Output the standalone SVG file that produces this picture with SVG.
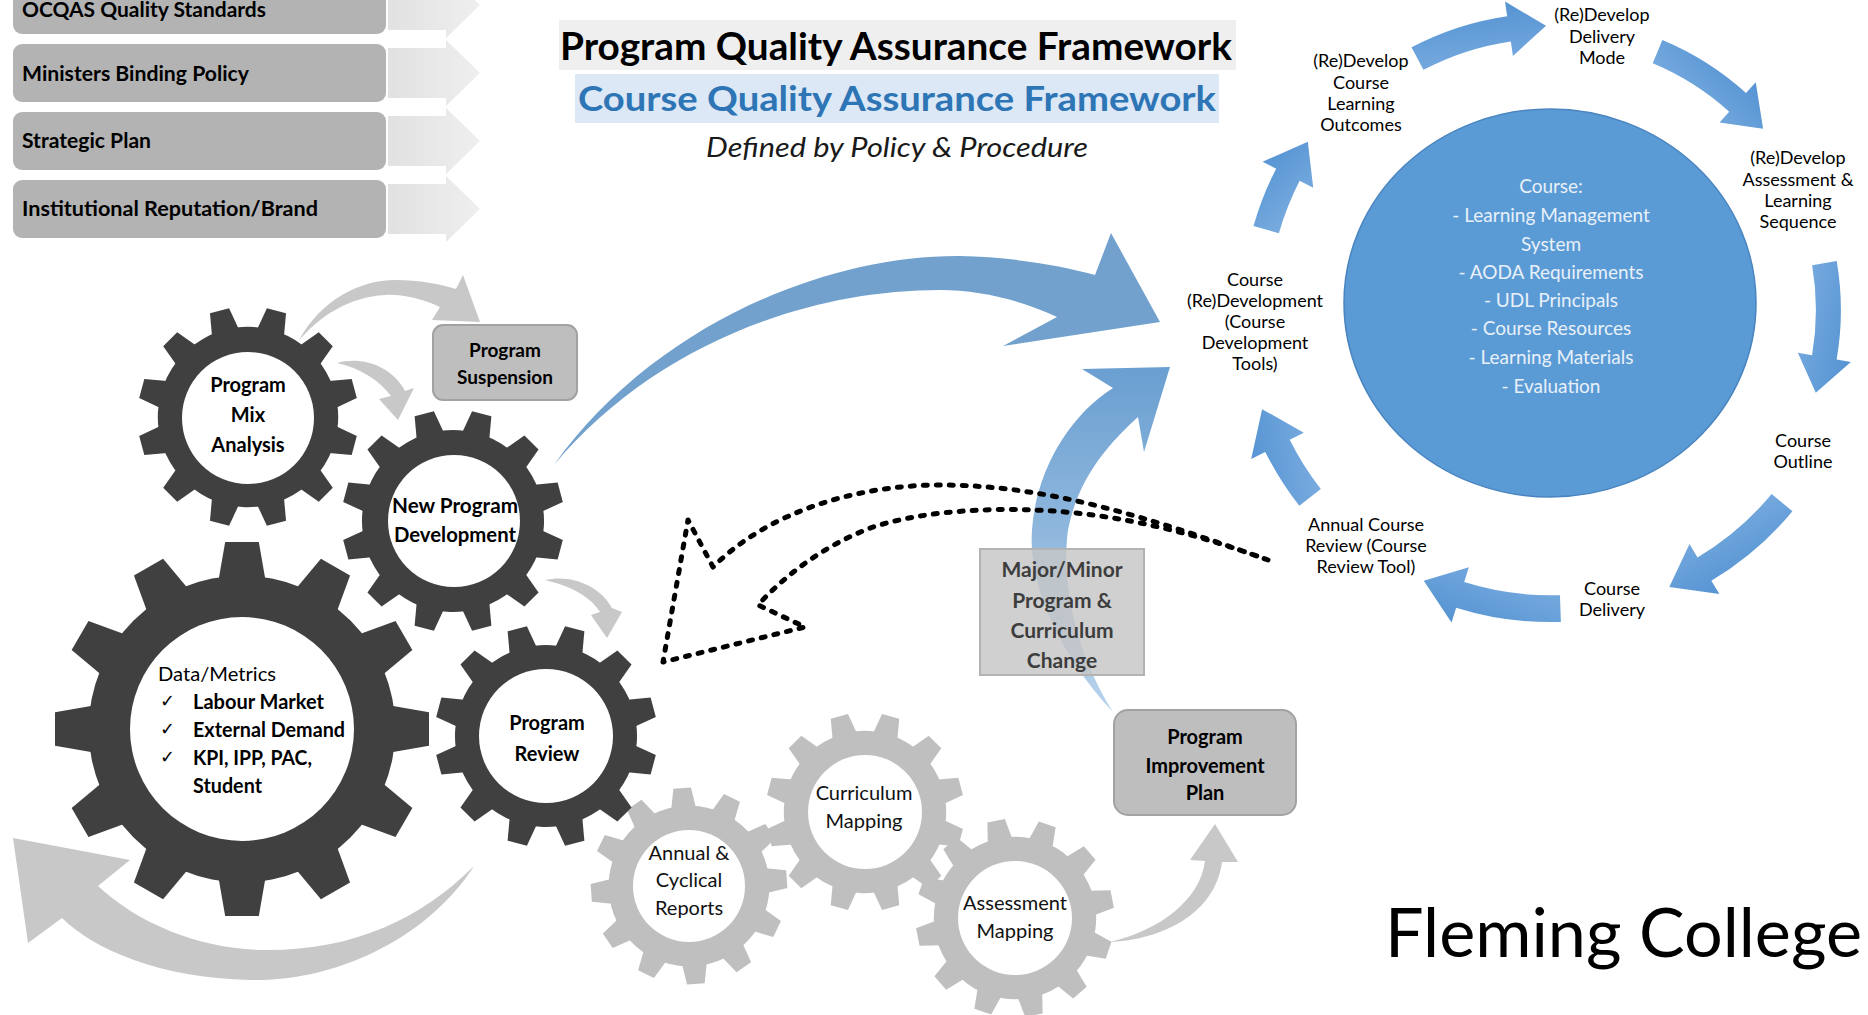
<svg xmlns="http://www.w3.org/2000/svg" width="1868" height="1015" viewBox="0 0 1868 1015">
<defs>
<style>
text{font-family:Lato,'Liberation Sans',sans-serif;}
.bx{fill:#b3b3b3;}
.bxt{font-weight:bold;font-size:21px;fill:#000;}
.gt{font-weight:bold;font-size:20px;fill:#000;text-anchor:middle;}
.gg{font-size:20px;fill:#111;text-anchor:middle;}
.cl{font-size:18px;fill:#000;text-anchor:middle;}
.ct{font-size:19px;fill:#e8f0f9;text-anchor:middle;}
.chev{fill:url(#chevg);}
.dark{fill:#404040;}
.light{fill:#bfbfbf;}
.hole{fill:#fff;}
.garr{fill:#c8c8c8;}
.barr{fill:url(#cyc);}
.dash{fill:none;stroke:#000;stroke-width:5;stroke-linecap:round;stroke-linejoin:round;stroke-dasharray:4 9;}
.pbox{fill:#bebebe;stroke:#a2a2a2;stroke-width:2;}
</style>
<linearGradient id="chevg" x1="0" y1="0" x2="1" y2="0">
<stop offset="0" stop-color="#e1e1e1"/><stop offset="1" stop-color="#efefef"/>
</linearGradient>
<linearGradient id="cyc" x1="0" y1="0" x2="1" y2="1">
<stop offset="0" stop-color="#82b2e3"/><stop offset="1" stop-color="#4f8fd0"/>
</linearGradient>
<linearGradient id="arrB" x1="0" y1="0" x2="0" y2="1">
<stop offset="0" stop-color="#6a9fd1"/><stop offset="1" stop-color="#b8d2eb"/>
</linearGradient>
<polygon id="tooth" points="-13,-77 13,-77 9,-100 -9,-100"/>
<g id="gear">
<circle r="82"/>
<use href="#tooth"/>
<use href="#tooth" transform="rotate(30)"/>
<use href="#tooth" transform="rotate(60)"/>
<use href="#tooth" transform="rotate(90)"/>
<use href="#tooth" transform="rotate(120)"/>
<use href="#tooth" transform="rotate(150)"/>
<use href="#tooth" transform="rotate(180)"/>
<use href="#tooth" transform="rotate(210)"/>
<use href="#tooth" transform="rotate(240)"/>
<use href="#tooth" transform="rotate(270)"/>
<use href="#tooth" transform="rotate(300)"/>
<use href="#tooth" transform="rotate(330)"/>
</g>
<path id="cycL" d="M303,0 A303,303 0 0 1 285.62,101.14 L299.76,106.15 L258.39,131.66 L246.97,87.46 L261.11,92.47 A277,277 0 0 0 277,0 Z"/>
<path id="cycS" d="M303,0 A303,303 0 0 1 296.92,60.41 L311.61,63.40 L274.20,94.42 L256.74,52.23 L271.44,55.23 A277,277 0 0 0 277,0 Z"/>
</defs>
<rect width="1868" height="1015" fill="#fff"/>

<g id="connectors">
<polygon class="chev" points="388,-20 446,-20 446,-28 480,5 446,38 446,30 388,30"/>
<polygon class="chev" points="388,48 446,48 446,40 480,73 446,106 446,98 388,98"/>
<polygon class="chev" points="388,116 446,116 446,108 480,141 446,174 446,166 388,166"/>
<polygon class="chev" points="388,184 446,184 446,176 480,209 446,242 446,234 388,234"/>
<path id="arrow-npd-course" fill="#72a1cd" d="M554,465 C650,330 820,255 960,256 C1010,257 1060,265 1095,275 L1111,233 L1160,322 L1003,346 L1057,317 C1020,300 980,290 940,290 C800,290 650,350 554,465 Z"/>
<path id="arrow-pip-course" fill="url(#arrB)" d="M1113,712 C1055,650 1028,580 1032,530 C1036,470 1070,415 1113,388 L1082,369 L1170,367 L1144,452 L1138,417 C1105,447 1078,480 1068,530 C1060,590 1080,660 1113,712 Z"/>
<g id="cycle-arrows">
<use href="#cycS" class="barr" transform="translate(1550,310) rotate(195.8) scale(1.017)"/>
<use href="#cycL" class="barr" transform="translate(1550,310) rotate(242.2) scale(0.98)"/>
<use href="#cycL" class="barr" transform="translate(1550,310) rotate(292.6) scale(0.965)"/>
<use href="#cycL" class="barr" transform="translate(1550,310) rotate(350.3) scale(0.96)"/>
<use href="#cycL" class="barr" transform="translate(1550,310) rotate(39.7) scale(1.04)"/>
<use href="#cycL" class="barr" transform="translate(1550,310) rotate(88) scale(1.03)"/>
<use href="#cycS" class="barr" transform="translate(1550,310) rotate(142) scale(1.05)"/>
</g>
</g>

<g id="title-program">
<rect x="559" y="20" width="677" height="50" fill="#efefef"/>
<text x="560" y="60" font-size="38" font-weight="bold" fill="#000" textLength="672" lengthAdjust="spacingAndGlyphs">Program Quality Assurance Framework</text>
</g>
<g id="title-course">
<rect x="575" y="74" width="644" height="49" fill="#dce8f5"/>
<text x="578" y="111" font-size="35" font-weight="bold" fill="#2e75b6" textLength="638" lengthAdjust="spacingAndGlyphs">Course Quality Assurance Framework</text>
</g>
<text id="subtitle" x="706" y="157" font-size="27" font-style="italic" fill="#1a1a1a" textLength="382" lengthAdjust="spacingAndGlyphs">Defined by Policy &amp; Procedure</text>

<g id="box-ocqas"><rect class="bx" x="13" y="-24" width="373" height="58" rx="9"/><text class="bxt" x="22" y="17" textLength="244" lengthAdjust="spacingAndGlyphs" style="font-size:20px">OCQAS Quality Standards</text></g>
<g id="box-ministers"><rect class="bx" x="13" y="44" width="373" height="58" rx="9"/><text class="bxt" x="22" y="81" textLength="227" lengthAdjust="spacingAndGlyphs">Ministers Binding Policy</text></g>
<g id="box-strategic"><rect class="bx" x="13" y="112" width="373" height="58" rx="9"/><text class="bxt" x="22" y="148" textLength="129" lengthAdjust="spacingAndGlyphs">Strategic Plan</text></g>
<g id="box-reputation"><rect class="bx" x="13" y="180" width="373" height="58" rx="9"/><text class="bxt" x="22" y="216" textLength="296" lengthAdjust="spacingAndGlyphs">Institutional Reputation/Brand</text></g>

<g id="course-circle">
<ellipse cx="1550" cy="303" rx="206" ry="194" fill="#5b9bd5" stroke="#4a85c0" stroke-width="1.5"/>
<text class="ct" x="1551" y="193">Course:</text>
<text class="ct" x="1551" y="222">- Learning Management</text>
<text class="ct" x="1551" y="251">System</text>
<text class="ct" x="1551" y="279">- AODA Requirements</text>
<text class="ct" x="1551" y="307">- UDL Principals</text>
<text class="ct" x="1551" y="335">- Course Resources</text>
<text class="ct" x="1551" y="364">- Learning Materials</text>
<text class="ct" x="1551" y="393">- Evaluation</text>
</g>
<g id="step-delivery-mode"><text class="cl" x="1602" y="21">(Re)Develop</text><text class="cl" x="1602" y="43">Delivery</text><text class="cl" x="1602" y="64">Mode</text></g>
<g id="step-clo"><text class="cl" x="1361" y="67">(Re)Develop</text><text class="cl" x="1361" y="89">Course</text><text class="cl" x="1361" y="110">Learning</text><text class="cl" x="1361" y="131">Outcomes</text></g>
<g id="step-assessment"><text class="cl" x="1798" y="164">(Re)Develop</text><text class="cl" x="1798" y="186">Assessment &amp;</text><text class="cl" x="1798" y="207">Learning</text><text class="cl" x="1798" y="228">Sequence</text></g>
<g id="step-outline"><text class="cl" x="1803" y="447">Course</text><text class="cl" x="1803" y="468">Outline</text></g>
<g id="step-delivery"><text class="cl" x="1612" y="595">Course</text><text class="cl" x="1612" y="616">Delivery</text></g>
<g id="step-annual-review"><text class="cl" x="1366" y="531">Annual Course</text><text class="cl" x="1366" y="552">Review (Course</text><text class="cl" x="1366" y="573">Review Tool)</text></g>
<g id="step-course-dev"><text class="cl" x="1255" y="286">Course</text><text class="cl" x="1255" y="307">(Re)Development</text><text class="cl" x="1255" y="328">(Course</text><text class="cl" x="1255" y="349">Development</text><text class="cl" x="1255" y="370">Tools)</text></g>

<g id="gear-annual">
<use href="#gear" class="light" transform="translate(689,886) rotate(-4) scale(0.98)"/>
<circle class="hole" cx="689" cy="886" r="56"/>
<text class="gg" x="689" y="860">Annual &amp;</text><text class="gg" x="689" y="887">Cyclical</text><text class="gg" x="689" y="915">Reports</text>
</g>
<g id="gear-curriculum">
<use href="#gear" class="light" transform="translate(865,812) rotate(15) scale(0.99)"/>
<circle class="hole" cx="865" cy="812" r="57"/>
<text class="gg" x="864" y="800">Curriculum</text><text class="gg" x="864" y="828">Mapping</text>
</g>
<g id="gear-assessment">
<use href="#gear" class="light" transform="translate(1015,918) rotate(19) scale(0.99)"/>
<circle class="hole" cx="1015" cy="918" r="57"/>
<text class="gg" x="1015" y="910">Assessment</text><text class="gg" x="1015" y="938">Mapping</text>
</g>

<g id="gear-data">
<use href="#gear" class="dark" transform="translate(242,729) scale(1.87)"/>
<circle class="hole" cx="242" cy="729" r="112"/>
<text x="158" y="681" font-size="20" fill="#000" textLength="118" lengthAdjust="spacingAndGlyphs">Data/Metrics</text>
<text x="160" y="707" font-size="18" fill="#000" font-family="'DejaVu Sans',sans-serif">✓</text>
<text class="bxt" x="193" y="709" textLength="131" lengthAdjust="spacingAndGlyphs" style="font-size:20px">Labour Market</text>
<text x="160" y="735" font-size="18" fill="#000" font-family="'DejaVu Sans',sans-serif">✓</text>
<text class="bxt" x="193" y="737" textLength="152" lengthAdjust="spacingAndGlyphs" style="font-size:20px">External Demand</text>
<text x="160" y="763" font-size="18" fill="#000" font-family="'DejaVu Sans',sans-serif">✓</text>
<text class="bxt" x="193" y="765" textLength="119" lengthAdjust="spacingAndGlyphs" style="font-size:20px">KPI, IPP, PAC,</text>
<text class="bxt" x="193" y="793" textLength="69" lengthAdjust="spacingAndGlyphs" style="font-size:20px">Student</text>
</g>
<g id="gear-program-mix">
<use href="#gear" class="dark" transform="translate(248,417) rotate(15) scale(1.1)"/>
<circle class="hole" cx="248" cy="418" r="66"/>
<text class="gt" x="248" y="392">Program</text><text class="gt" x="248" y="422">Mix</text><text class="gt" x="248" y="452">Analysis</text>
</g>
<g id="gear-new-program">
<use href="#gear" class="dark" transform="translate(453,521) rotate(15) scale(1.11)"/>
<circle class="hole" cx="454" cy="521" r="66"/>
<text class="gt" x="455" y="513" textLength="126" lengthAdjust="spacingAndGlyphs">New Program</text><text class="gt" x="455" y="542" textLength="122" lengthAdjust="spacingAndGlyphs">Development</text>
</g>
<g id="gear-program-review">
<use href="#gear" class="dark" transform="translate(546,736) rotate(15) scale(1.11)"/>
<circle class="hole" cx="546" cy="736" r="67"/>
<text class="gt" x="547" y="730">Program</text><text class="gt" x="547" y="761">Review</text>
</g>

<g id="gray-arrows">
<path class="garr" d="M474,866 C430,935 340,982 250,980 C160,978 95,950 62,918 L28,943 L13,838 L130,860 L98,886 C140,925 200,948 260,950 C350,952 420,920 474,866 Z"/>
<path class="garr" d="M298,342 C320,300 360,280 395,280 C420,280 440,284 456,289 L463,275 L480,322 L432,320 L440,307 C420,298 400,294 385,295 C350,297 320,315 298,342 Z"/>
<path class="garr" d="M337,363 C362,356 392,366 405,391 L414,388 L398,420 L379,399 L391,396 C379,380 360,368 337,363 Z"/>
<path class="garr" d="M545,580 C570,574 600,585 612,608 L622,612 L607,638 L591,615 L600,612 C590,596 570,586 545,580 Z"/>
<path class="garr" d="M1110,942 C1160,940 1215,915 1222,862 L1238,862 L1215,824 L1190,860 L1205,861 C1200,900 1160,930 1110,942 Z"/>
</g>

<path id="arrow-review-feedback" class="dash" d="M1268,560 C1150,518 1050,485 940,485 C860,485 770,510 713,567 L688,520 L663,662 L805,627 L758,605 C790,570 830,543 873,527 C920,512 980,508 1033,510 C1120,513 1200,535 1268,560 Z"/>

<g id="box-suspension">
<rect class="pbox" x="433" y="325" width="144" height="75" rx="10"/>
<text class="gt" x="505" y="357" style="font-size:19px">Program</text><text class="gt" x="505" y="384" style="font-size:19px">Suspension</text>
</g>
<g id="box-major-minor">
<rect x="980" y="549" width="164" height="126" fill="#c6c6c6" fill-opacity="0.82" stroke="#b3b3b3" stroke-width="2"/>
<text class="gt" x="1062" y="577" style="font-size:21px;fill:#3d3d3d">Major/Minor</text>
<text class="gt" x="1062" y="608" style="font-size:21px;fill:#3d3d3d">Program &amp;</text>
<text class="gt" x="1062" y="638" style="font-size:21px;fill:#3d3d3d">Curriculum</text>
<text class="gt" x="1062" y="668" style="font-size:21px;fill:#3d3d3d">Change</text>
</g>
<g id="box-improvement">
<rect class="pbox" x="1114" y="710" width="182" height="105" rx="14"/>
<text class="gt" x="1205" y="744">Program</text><text class="gt" x="1205" y="773">Improvement</text><text class="gt" x="1205" y="800">Plan</text>
</g>

<text id="fleming" x="1385" y="957" font-size="68" fill="#000" textLength="477" lengthAdjust="spacingAndGlyphs">Fleming College</text>
</svg>
